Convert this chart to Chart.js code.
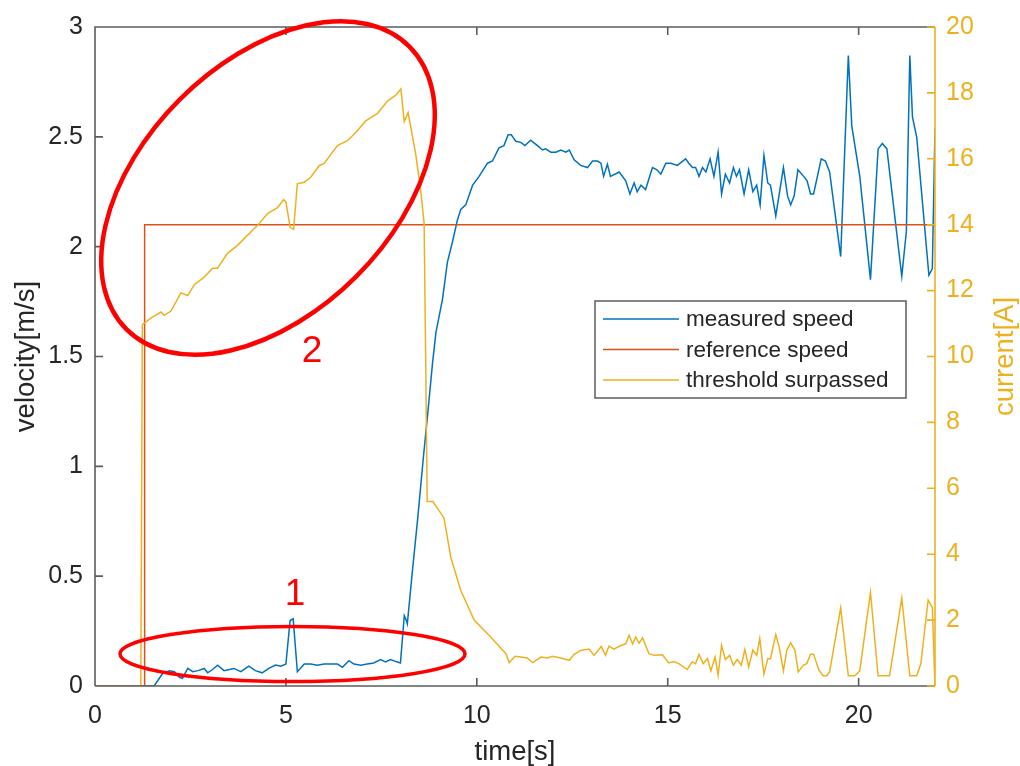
<!DOCTYPE html>
<html><head><meta charset="utf-8">
<script src="https://cdn.jsdelivr.net/npm/chart.js@4.4.1/dist/chart.umd.min.js"></script>
<style>html,body{margin:0;padding:0;background:#fff;} #wrap{width:1020px;height:766px;}</style>
</head><body><div id="wrap"><canvas id="c" width="1020" height="766"></canvas></div>
<script>
// ---------- data ----------
const seriesNames = ['measured speed', 'reference speed', 'threshold surpassed'];

const speedTime = [0, 1.55, 1.77, 1.95, 2.08, 2.21, 2.29, 2.43, 2.56, 2.7, 2.86, 2.95, 3.08, 3.21, 3.38, 3.52, 3.64, 3.82, 4.03, 4.2, 4.38, 4.55, 4.73, 4.87, 5.0, 5.11, 5.19, 5.3, 5.48, 5.65, 5.82, 6.0, 6.17, 6.35, 6.48, 6.65, 6.78, 6.96, 7.13, 7.3, 7.48, 7.61, 7.74, 7.9, 8.0, 8.1, 8.15, 8.18,
  8.3, 8.45, 8.6, 8.72, 8.84, 8.93, 9.1, 9.23, 9.36, 9.49, 9.58, 9.71, 9.89, 10.06, 10.28, 10.41, 10.58, 10.71, 10.82, 10.9, 11.02, 11.15, 11.26, 11.41, 11.59, 11.72, 11.8, 11.94, 12.07, 12.2, 12.33, 12.42, 12.55, 12.72, 12.9, 13.03, 13.16, 13.25, 13.32, 13.42, 13.5, 13.73, 13.9, 14.01, 14.12, 14.2, 14.3, 14.42, 14.6, 14.72, 14.82, 14.95, 15.08, 15.25, 15.47, 15.55, 15.65, 15.73, 15.82, 15.91, 16.0, 16.11, 16.21, 16.32, 16.41, 16.51, 16.62, 16.72, 16.8, 16.88, 17.0, 17.12, 17.23, 17.33, 17.42, 17.52, 17.62, 17.69, 17.83, 18.03, 18.14, 18.22, 18.31, 18.41, 18.56, 18.65, 18.74, 18.82, 19.02, 19.13, 19.24, 19.53, 19.73, 19.82, 20.03, 20.31, 20.51, 20.62, 20.74, 21.13, 21.25, 21.34, 21.41, 21.52, 21.84, 21.93, 22.0];
const speedValues = [0, 0, 0.057, 0.069, 0.065, 0.039, 0.035, 0.08, 0.065, 0.07, 0.08, 0.06, 0.075, 0.095, 0.07, 0.075, 0.08, 0.065, 0.09, 0.07, 0.06, 0.08, 0.095, 0.09, 0.10, 0.298, 0.306, 0.065, 0.1, 0.1, 0.095, 0.1, 0.1, 0.1, 0.085, 0.115, 0.1, 0.095, 0.1, 0.105, 0.12, 0.11, 0.12, 0.11, 0.105, 0.32, 0.30, 0.283,
  0.5, 0.76, 1.04, 1.25, 1.47, 1.61, 1.76, 1.93, 2.02, 2.12, 2.17, 2.19, 2.28, 2.32, 2.38, 2.39, 2.45, 2.46, 2.51, 2.51, 2.48, 2.475, 2.46, 2.485, 2.46, 2.44, 2.445, 2.43, 2.43, 2.44, 2.43, 2.44, 2.395, 2.37, 2.36, 2.39, 2.39, 2.38, 2.32, 2.375, 2.32, 2.34, 2.30, 2.24, 2.29, 2.25, 2.28, 2.26, 2.36, 2.35, 2.33, 2.38, 2.38, 2.37, 2.40, 2.38, 2.36, 2.36, 2.32, 2.36, 2.34, 2.40, 2.32, 2.43, 2.24, 2.33, 2.29, 2.36, 2.32, 2.35, 2.24, 2.35, 2.25, 2.28, 2.19, 2.415, 2.29, 2.28, 2.14, 2.36, 2.23, 2.19, 2.23, 2.35, 2.32, 2.30, 2.24, 2.24, 2.40, 2.39, 2.34, 1.955, 2.87, 2.55, 2.32, 1.85, 2.445, 2.47, 2.445, 1.865, 2.07, 2.87, 2.59, 2.50, 1.87, 1.90, 2.54];

const refTime = [0, 1.3, 1.3, 22];
const refValues = [0, 0, 2.1, 2.1];

const currentTime = [0, 1.2, 1.24, 1.47, 1.73, 1.81, 1.99, 2.25, 2.43, 2.6, 2.86, 3.08, 3.21, 3.47, 3.74, 3.95, 4.26, 4.52, 4.78, 4.94, 5.0, 5.11, 5.2, 5.3, 5.48, 5.65, 5.87, 6.0, 6.35, 6.61, 6.83, 7.09, 7.4, 7.66, 7.88, 8.01, 8.1, 8.2, 8.4, 8.53, 8.62, 8.66, 8.7, 8.85, 9.14, 9.32, 9.58, 9.93, 10.37, 10.76, 10.85, 11.0, 11.15, 11.32, 11.46, 11.68, 11.85, 11.98, 12.2, 12.42, 12.55, 12.72, 12.94, 13.07, 13.26, 13.37, 13.46, 13.59, 13.77, 13.9, 13.99, 14.08, 14.16, 14.25, 14.34, 14.51, 14.64, 14.86, 15.03, 15.16, 15.29, 15.51, 15.64, 15.73, 15.82, 15.93, 16.04, 16.13, 16.24, 16.32, 16.41, 16.51, 16.62, 16.72, 16.82, 16.93, 17.02, 17.12, 17.23, 17.33, 17.41, 17.52, 17.62, 17.69, 17.83, 17.92, 18.03, 18.12, 18.22, 18.33, 18.42, 18.55, 18.64, 18.74, 18.82, 18.96, 19.07, 19.16, 19.24, 19.53, 19.73, 19.9, 20.03, 20.31, 20.51, 20.81, 21.13, 21.34, 21.52, 21.63, 21.82, 21.93, 22.0];
const currentValues = [0, 0, 10.97, 11.17, 11.35, 11.25, 11.38, 11.93, 11.85, 12.18, 12.41, 12.68, 12.68, 13.13, 13.38, 13.63, 13.98, 14.34, 14.52, 14.76, 14.69, 13.92, 13.86, 15.24, 15.29, 15.44, 15.79, 15.86, 16.4, 16.55, 16.8, 17.15, 17.38, 17.75, 17.93, 18.12, 17.13, 17.4, 16.14, 15.04, 14.04, 10.0, 5.6, 5.6, 5.1, 3.9, 2.9, 2.0, 1.48, 0.98, 0.71, 0.9, 0.88, 0.85, 0.71, 0.88, 0.85, 0.9, 0.85, 0.78, 0.96, 1.08, 1.12, 0.93, 1.2, 0.93, 1.21, 1.12, 1.23, 1.28, 1.54, 1.28, 1.48, 1.3, 1.46, 0.98, 0.93, 0.95, 0.7, 0.74, 0.68, 0.50, 0.73, 0.68, 0.96, 0.68, 0.83, 0.46, 0.88, 0.33, 1.23, 0.80, 0.93, 0.63, 0.80, 0.63, 1.11, 0.58, 1.09, 0.93, 1.44, 0.36, 0.83, 0.83, 1.56, 1.18, 0.46, 1.09, 1.31, 1.09, 0.43, 0.63, 0.68, 0.96, 0.96, 0.48, 0.31, 0.31, 0.43, 2.37, 0.31, 0.31, 0.46, 2.84, 0.31, 0.31, 2.67, 0.31, 0.31, 0.68, 2.61, 2.39, 0];

const xTicks = [0, 5, 10, 15, 20];
const xTitle = 'time[s]';
const yTitle = 'velocity[m/s]';
const y1Title = 'current[A]';
const noteLabels = ['1', '2'];

// ---------- styles ----------
const C_BLUE = '#0072BD', C_ORANGE = '#D95319', C_YELLOW = '#EDB120', C_TEXT = '#262626', C_AXIS = '#5c5c5c';
const FONT = '"Liberation Sans", Arial, Helvetica, sans-serif';

const toPts = (xs, ys) => xs.map((x, i) => ({ x: x, y: ys[i] }));
const plainNum = v => String(Math.round(v * 1000) / 1000);

const decorPlugin = {
  id: 'decor',
  afterDatasetsDraw(chart) {
    const ctx = chart.ctx, a = chart.chartArea;
    const xs = chart.scales.x, ys = chart.scales.y, y1 = chart.scales.y1;
    const L = a.left, R = a.right, T = a.top, B = a.bottom, TL = 8;
    ctx.save();
    ctx.lineWidth = 1.6; ctx.strokeStyle = C_AXIS; ctx.lineCap = 'butt';
    ctx.beginPath();
    ctx.moveTo(L, B); ctx.lineTo(L, T); ctx.lineTo(R, T);
    ctx.moveTo(L, B); ctx.lineTo(R, B);
    xs.ticks.forEach(t => {
      const px = xs.getPixelForValue(t.value);
      ctx.moveTo(px, B); ctx.lineTo(px, B - TL);
      ctx.moveTo(px, T); ctx.lineTo(px, T + TL);
    });
    ys.ticks.forEach(t => {
      const py = ys.getPixelForValue(t.value);
      ctx.moveTo(L, py); ctx.lineTo(L + TL, py);
    });
    ctx.stroke();
    ctx.strokeStyle = C_YELLOW; ctx.lineWidth = 1.6;
    ctx.beginPath();
    ctx.moveTo(R, T); ctx.lineTo(R, B);
    y1.ticks.forEach(t => {
      const py = y1.getPixelForValue(t.value);
      ctx.moveTo(R, py); ctx.lineTo(R - TL, py);
    });
    ctx.stroke();

    ctx.textAlign = 'center'; ctx.textBaseline = 'middle';
    ctx.font = '27.5px ' + FONT;
    ctx.fillStyle = C_TEXT;
    ctx.fillText(xTitle, (L + R) / 2, 752);
    ctx.save(); ctx.translate(26, (T + B) / 2); ctx.rotate(-Math.PI / 2); ctx.fillText(yTitle, 0, 0); ctx.restore();
    ctx.fillStyle = C_YELLOW;
    ctx.save(); ctx.translate(1005, (T + B) / 2); ctx.rotate(-Math.PI / 2); ctx.fillText(y1Title, 0, 0); ctx.restore();

    const lx = 595, ly = 301, lw = 311, lh = 97;
    ctx.fillStyle = '#ffffff';
    ctx.fillRect(lx, ly, lw, lh);
    ctx.strokeStyle = C_AXIS; ctx.lineWidth = 1.5;
    ctx.strokeRect(lx, ly, lw, lh);
    ctx.font = '22.5px ' + FONT; ctx.textAlign = 'left'; ctx.textBaseline = 'middle';
    chart.data.datasets.forEach((ds, i) => {
      const yy = 319 + i * 30.5;
      ctx.strokeStyle = ds.borderColor; ctx.lineWidth = 1.5;
      ctx.beginPath(); ctx.moveTo(603, yy); ctx.lineTo(679, yy); ctx.stroke();
      ctx.fillStyle = C_TEXT;
      ctx.fillText(ds.label, 686, yy + 1);
    });

    ctx.strokeStyle = '#ff0000';
    ctx.lineWidth = 3.5;
    ctx.beginPath(); ctx.ellipse(292.5, 654, 172.5, 27.5, 0, 0, Math.PI * 2); ctx.stroke();
    ctx.lineWidth = 4.5;
    ctx.beginPath(); ctx.ellipse(268, 188, 200, 125, -Math.PI / 4, 0, Math.PI * 2); ctx.stroke();
    ctx.fillStyle = '#ff0000'; ctx.font = '37px ' + FONT; ctx.textAlign = 'center'; ctx.textBaseline = 'middle';
    ctx.fillText(noteLabels[0], 295, 595);
    ctx.fillText(noteLabels[1], 312, 352);
    ctx.restore();
  }
};

new Chart(document.getElementById('c'), {
  type: 'line',
  data: {
    datasets: [
      { label: seriesNames[0], data: toPts(speedTime, speedValues), yAxisID: 'y', borderColor: C_BLUE, borderWidth: 1.5, pointRadius: 0, tension: 0, order: 2 },
      { label: seriesNames[1], data: toPts(refTime, refValues), yAxisID: 'y', borderColor: C_ORANGE, borderWidth: 1.5, pointRadius: 0, tension: 0, order: 1 },
      { label: seriesNames[2], data: toPts(currentTime, currentValues), yAxisID: 'y1', borderColor: C_YELLOW, borderWidth: 1.5, pointRadius: 0, tension: 0, order: 0 }
    ]
  },
  options: {
    responsive: false, animation: false, devicePixelRatio: 1,
    layout: { padding: { top: 22, left: 0, right: 0, bottom: 0 } },
    plugins: { legend: { display: false }, tooltip: { enabled: false } },
    scales: {
      x: {
        type: 'linear', min: 0, max: 22,
        afterBuildTicks: s => { s.ticks = xTicks.map(v => ({ value: v })); },
        afterFit: s => { s.height = 80; },
        grid: { display: false, drawTicks: false }, border: { display: false },
        ticks: { color: C_TEXT, font: { family: FONT, size: 25 }, padding: 15, maxRotation: 0, callback: plainNum }
      },
      y: {
        position: 'left', min: 0, max: 3,
        afterFit: s => { s.width = 95; },
        grid: { display: false, drawTicks: false }, border: { display: false },
        ticks: { stepSize: 0.5, color: C_TEXT, font: { family: FONT, size: 25 }, padding: 12, callback: plainNum }
      },
      y1: {
        position: 'right', min: 0, max: 20,
        afterFit: s => { s.width = 85; },
        grid: { display: false, drawTicks: false }, border: { display: false },
        ticks: { stepSize: 2, color: C_YELLOW, font: { family: FONT, size: 25 }, padding: 11, callback: plainNum }
      }
    }
  },
  plugins: [decorPlugin]
});
</script>
</body></html>
